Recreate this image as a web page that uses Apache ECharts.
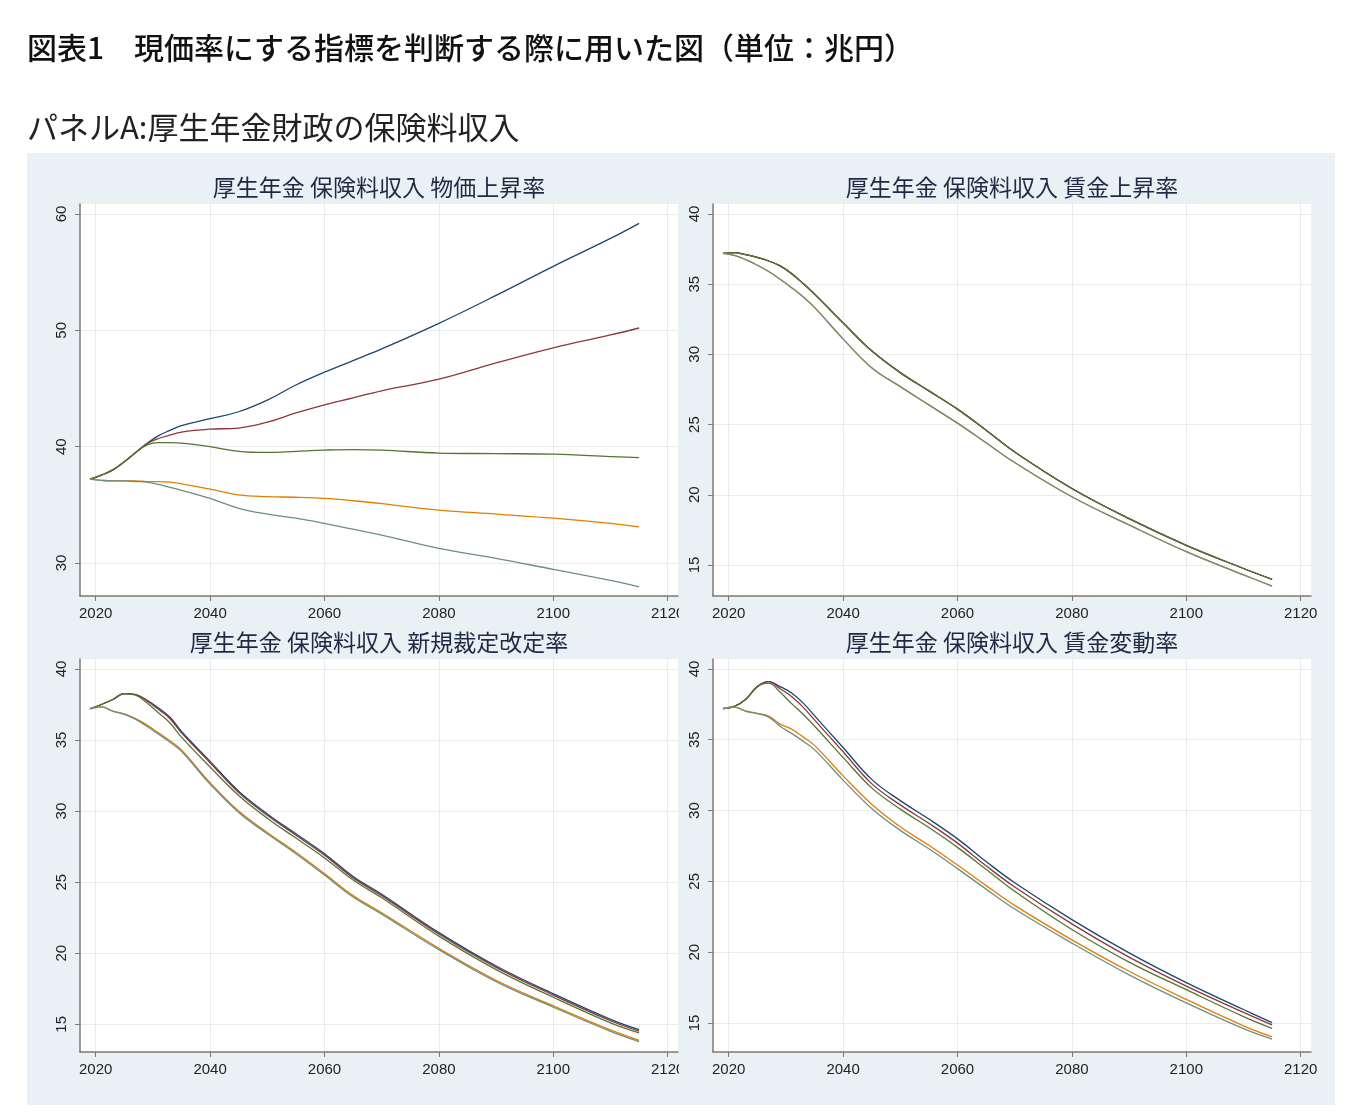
<!DOCTYPE html>
<html><head><meta charset="utf-8">
<script src="https://cdn.jsdelivr.net/npm/echarts@6/dist/echarts.min.js"></script>
<style>html,body{margin:0;padding:0;background:#fff}#c{width:1361px;height:1114px}</style>
</head><body><div id="c"></div>
<script>
// ---- data ----
const years = [2019, 2021, 2023, 2025, 2027, 2029, 2031, 2033, 2035, 2040, 2045, 2050, 2055, 2060, 2065, 2070, 2080, 2090, 2100, 2110, 2115];
const xTicks = [2020, 2040, 2060, 2080, 2100, 2120];
const yTicksA = [30, 40, 50, 60];
const yTicksB = [15, 20, 25, 30, 35, 40];
const panelTitles = ['厚生年金 保険料収入 物価上昇率', '厚生年金 保険料収入 賃金上昇率', '厚生年金 保険料収入 新規裁定改定率', '厚生年金 保険料収入 賃金変動率'];
const seriesNames = ['系列1', '系列2', '系列3', '系列4', '系列5'];

// Panel 1: 物価上昇率
const p1Navy   = [37.2, 37.55, 38.0, 38.7, 39.5, 40.3, 40.95, 41.4, 41.8, 42.4, 43.0, 44.0, 45.3, 46.4, 47.4, 48.4, 50.6, 53.0, 55.5, 57.9, 59.2];
const p1Maroon = [37.2, 37.55, 38.0, 38.7, 39.5, 40.25, 40.7, 41.0, 41.25, 41.5, 41.6, 42.1, 42.9, 43.6, 44.2, 44.8, 45.8, 47.2, 48.5, 49.6, 50.2];
const p1Green  = [37.2, 37.55, 38.0, 38.7, 39.5, 40.15, 40.35, 40.35, 40.3, 40.0, 39.6, 39.5, 39.6, 39.7, 39.75, 39.7, 39.45, 39.4, 39.35, 39.15, 39.05];
const p1Orange = [37.2, 37.1, 37.05, 37.05, 37.05, 37.0, 37.0, 36.95, 36.8, 36.35, 35.85, 35.7, 35.65, 35.55, 35.35, 35.1, 34.55, 34.2, 33.85, 33.4, 33.1];
const p1Teal   = [37.2, 37.1, 37.05, 37.05, 37.0, 36.95, 36.75, 36.5, 36.25, 35.55, 34.7, 34.2, 33.85, 33.4, 32.9, 32.4, 31.25, 30.4, 29.45, 28.5, 27.95];

// Panel 2: 賃金上昇率
const p2Navy   = [37.2, 37.25, 37.1, 36.9, 36.65, 36.3, 35.75, 35.05, 34.3, 32.25, 30.25, 28.7, 27.4, 26.1, 24.6, 23.05, 20.45, 18.3, 16.4, 14.75, 13.98];
const p2Maroon = [37.2, 37.25, 37.1, 36.9, 36.65, 36.3, 35.75, 35.05, 34.3, 32.25, 30.25, 28.7, 27.4, 26.1, 24.6, 23.05, 20.45, 18.3, 16.4, 14.75, 13.98];
const p2Green  = [37.2, 37.25, 37.1, 36.9, 36.65, 36.3, 35.75, 35.05, 34.3, 32.25, 30.25, 28.7, 27.4, 26.1, 24.6, 23.05, 20.45, 18.3, 16.4, 14.75, 13.98];
const p2Orange = [37.2, 37.05, 36.75, 36.35, 35.9, 35.35, 34.75, 34.1, 33.35, 31.1, 29.05, 27.7, 26.4, 25.1, 23.7, 22.3, 19.86, 17.85, 15.95, 14.3, 13.5];
const p2Teal   = [37.2, 37.05, 36.75, 36.35, 35.9, 35.35, 34.75, 34.1, 33.35, 31.1, 29.05, 27.7, 26.4, 25.1, 23.7, 22.3, 19.86, 17.85, 15.95, 14.3, 13.5];

// Panel 3: 新規裁定改定率
const p3Navy   = [37.2, 37.5, 37.85, 38.27, 38.2, 37.8, 37.25, 36.6, 35.6, 33.5, 31.4, 29.8, 28.4, 27.0, 25.4, 24.15, 21.45, 19.1, 17.15, 15.35, 14.62];
const p3Maroon = [37.2, 37.5, 37.85, 38.27, 38.2, 37.75, 37.15, 36.5, 35.5, 33.4, 31.3, 29.7, 28.3, 26.9, 25.3, 24.05, 21.35, 19.0, 17.05, 15.25, 14.52];
const p3Green  = [37.2, 37.5, 37.85, 38.27, 38.15, 37.6, 36.9, 36.2, 35.2, 33.1, 31.1, 29.5, 28.1, 26.7, 25.15, 23.9, 21.2, 18.85, 16.9, 15.1, 14.4];
const p3Orange = [37.2, 37.33, 37.03, 36.84, 36.5, 36.05, 35.5, 34.95, 34.3, 32.0, 30.0, 28.5, 27.1, 25.6, 24.05, 22.85, 20.35, 18.1, 16.3, 14.6, 13.87];
const p3Teal   = [37.2, 37.33, 37.03, 36.8, 36.45, 35.95, 35.4, 34.85, 34.2, 31.9, 29.9, 28.4, 27.0, 25.5, 23.95, 22.75, 20.25, 18.0, 16.2, 14.5, 13.78];

// Panel 4: 賃金変動率
const p4Navy   = [37.2, 37.35, 37.85, 38.75, 39.1, 38.75, 38.3, 37.6, 36.7, 34.45, 32.2, 30.7, 29.4, 28.0, 26.4, 24.9, 22.3, 19.95, 17.85, 15.95, 15.02];
const p4Maroon = [37.2, 37.35, 37.85, 38.75, 39.1, 38.6, 38.05, 37.3, 36.4, 34.15, 31.9, 30.4, 29.1, 27.7, 26.1, 24.6, 22.0, 19.65, 17.6, 15.75, 14.86];
const p4Green  = [37.2, 37.35, 37.85, 38.75, 39.0, 38.35, 37.55, 36.8, 35.97, 33.75, 31.6, 30.1, 28.8, 27.4, 25.85, 24.3, 21.6, 19.3, 17.35, 15.45, 14.62];
const p4Orange = [37.2, 37.3, 37.03, 36.86, 36.67, 36.1, 35.75, 35.2, 34.6, 32.45, 30.45, 28.85, 27.55, 26.15, 24.7, 23.3, 20.87, 18.65, 16.66, 14.8, 14.02];
const p4Teal   = [37.2, 37.3, 37.0, 36.85, 36.6, 35.95, 35.45, 34.9, 34.3, 32.15, 30.15, 28.6, 27.3, 25.9, 24.45, 23.05, 20.64, 18.4, 16.42, 14.6, 13.86];

// ---- styling / layout ----
const colors = ['#1a476f', '#90353b', '#55752f', '#e37e00', '#6e8e84'];
const bg = '#e9f1f4';
const panels = [
  { grid: { left: 80, top: 204, width: 598, height: 392 }, yMin: 27.16, yMax: 60.86, yTicks: yTicksA, data: [p1Navy, p1Maroon, p1Green, p1Orange, p1Teal] },
  { grid: { left: 713, top: 204, width: 598, height: 392 }, yMin: 12.79, yMax: 40.71, yTicks: yTicksB, data: [p2Navy, p2Maroon, p2Green, p2Orange, p2Teal] },
  { grid: { left: 80, top: 659, width: 598, height: 393 }, yMin: 13.05, yMax: 40.7, yTicks: yTicksB, data: [p3Navy, p3Maroon, p3Green, p3Orange, p3Teal] },
  { grid: { left: 713, top: 659, width: 598, height: 393 }, yMin: 12.95, yMax: 40.7, yTicks: yTicksB, data: [p4Navy, p4Maroon, p4Green, p4Orange, p4Teal] }
];
const numFont = 'Liberation Sans, Arial, sans-serif';
const cjkFont = 'Noto Sans CJK JP, sans-serif';
const plain = v => String(v);

const grids = [], xAxes = [], yAxes = [], series = [], graphics = [];
graphics.push({ type: 'rect', z: -100, shape: { x: 27, y: 153, width: 1308, height: 952 }, style: { fill: bg } });

panels.forEach((p, i) => {
  grids.push(Object.assign({ show: true, backgroundColor: '#ffffff', borderWidth: 0, containLabel: false }, p.grid));
  xAxes.push({
    type: 'value', gridIndex: i, min: 2017.26, max: 2121.8,
    axisLine: { show: true, onZero: false, lineStyle: { color: '#7a7a7a', width: 1.5 } },
    axisTick: { show: true, length: 5, customValues: xTicks, lineStyle: { color: '#7a7a7a', width: 1 } },
    axisLabel: { customValues: xTicks, formatter: plain, fontSize: 15, color: '#222', margin: 10, fontFamily: numFont, showMaxLabel: true, showMinLabel: true },
    splitLine: { show: true, lineStyle: { color: '#e6ecef', width: 1 } }
  });
  yAxes.push({
    type: 'value', gridIndex: i, min: p.yMin, max: p.yMax,
    axisLine: { show: true, onZero: false, lineStyle: { color: '#7a7a7a', width: 1.5 } },
    axisTick: { show: true, length: 5, customValues: p.yTicks, lineStyle: { color: '#7a7a7a', width: 1 } },
    axisLabel: { customValues: p.yTicks, formatter: plain, rotate: 90, fontSize: 15, color: '#222', margin: 11, fontFamily: numFont },
    splitLine: { show: true, lineStyle: { color: '#e6ecef', width: 1 } }
  });
  p.data.forEach((arr, k) => {
    series.push({
      name: seriesNames[k], type: 'line', xAxisIndex: i, yAxisIndex: i,
      data: years.map((yr, j) => [yr, arr[j]]),
      showSymbol: false, smooth: 0.4, animation: false,
      lineStyle: { color: colors[k], width: 1.3 }, itemStyle: { color: colors[k] }
    });
  });
  const cx = p.grid.left + p.grid.width / 2;
  graphics.push({ type: 'text', z: 10, x: cx, y: p.grid.top - 17,
    style: { text: panelTitles[i], align: 'center', verticalAlign: 'middle', textAlign: 'center', textVerticalAlign: 'middle',
      font: 'normal 23px ' + cjkFont, fill: '#1e2a45' } });
});
// partial covering of the rightmost tick label of left panels (as in original layout)
graphics.push({ type: 'rect', z: 100, shape: { x: 679, y: 602, width: 30, height: 26 }, style: { fill: bg } });
graphics.push({ type: 'rect', z: 100, shape: { x: 679, y: 1058, width: 30, height: 26 }, style: { fill: bg } });

const chart = echarts.init(document.getElementById('c'), null, { renderer: 'canvas' });
chart.setOption({
  animation: false,
  backgroundColor: '#ffffff',
  title: [
    { text: '図表1　現価率にする指標を判断する際に用いた図（単位：兆円）', left: 27, top: 33, padding: 0,
      textStyle: { fontFamily: cjkFont, fontSize: 30, fontWeight: 500, color: '#111' } },
    { text: 'パネルA:厚生年金財政の保険料収入', left: 27, top: 112, padding: 0,
      textStyle: { fontFamily: cjkFont, fontSize: 31, fontWeight: 'normal', color: '#222' } }
  ],
  grid: grids, xAxis: xAxes, yAxis: yAxes, series: series, graphic: graphics
});
</script></body></html>
